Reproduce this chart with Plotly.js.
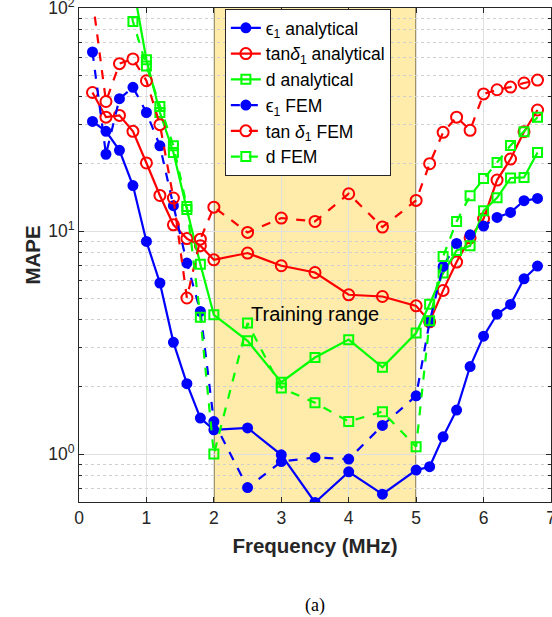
<!DOCTYPE html>
<html>
<head>
<meta charset="utf-8">
<script src="https://cdn.plot.ly/plotly-3.0.1.min.js"></script>
<style>html,body{margin:0;padding:0;background:#fff;}#chart{width:552px;height:617px;}</style>
</head>
<body>
<div id="chart"></div>
<script>
// Frequency points (MHz)
const freqAll = [0.2,0.4,0.6,0.8,1.0,1.2,1.4,1.6,1.8,2.0,2.5,3.0,3.5,4.0,4.5,5.0,5.2,5.4,5.6,5.8,6.0,6.2,6.4,6.6,6.8];
const freqD_an = [0.8,1.0,1.2,1.4,1.6,1.8,2.0,2.5,3.0,3.5,4.0,4.5,5.0,5.2,5.4,5.6,5.8,6.0,6.2,6.4,6.6,6.8];
const freqD_fem = [0.6,0.8,1.0,1.2,1.4,1.6,1.8,2.0,2.5,3.0,3.5,4.0,4.5,5.0,5.2,5.4,5.6,5.8,6.0,6.2,6.4,6.6,6.8];

// MAPE values (%)
const eps_an = [31.0,28.0,23.0,16.0,8.98,5.85,3.17,2.07,1.45,1.285,1.31,0.993,0.607,0.833,0.661,0.848,0.878,1.196,1.575,2.47,3.38,4.24,4.69,6.11,6.97];
const tan_an = [41.8,32.4,33.0,28.0,20.2,14.44,10.67,9.25,8.6,7.43,7.97,6.99,6.52,5.18,5.09,4.62,3.92,5.42,7.26,9.33,11.36,16.93,21.03,27.9,34.9];
const d_an = [128,58.6,34,22.5,12.5,7.1,4.21,3.22,2.10,2.71,3.26,2.45,3.49,4.7,6.48,8.18,8.59,12.33,14.1,17.3,17.4,22.5];
const eps_fem = [63.5,22.1,39.2,44.1,34.0,24.1,12.99,7.19,4.36,1.40,0.708,0.926,0.966,0.95,1.344,1.826,3.92,6.94,8.8,9.62,10.53,11.51,12.12,13.68,14.0];
const tan_fem = [110,38.1,56.3,59.1,47.2,30.0,14.06,5.01,9.2,12.8,9.86,11.44,11.04,14.7,10.42,13.72,20.04,27.7,32.4,28.3,41.2,43.0,44.2,46.1,47.5];
const d_fem = [190,87,55,36.2,24.1,12.9,4.11,1.0,3.87,1.98,1.70,1.40,1.55,1.08,3.96,7.69,11.04,14.4,17.2,20.3,24.2,27.9,32.4];

const names = ['\u03f5<sub>1</sub> analytical','tan<i>\u03b4</i><sub>1</sub> analytical','d analytical',
               '\u03f5<sub>1</sub> FEM','tan <i>\u03b4</i><sub>1</sub> FEM','d FEM'];

const yTickVals = [1,10,100];
const yTickText = ['10<sup>0</sup>','10<sup>1</sup>','10<sup>2</sup>'];
const minorVals = [0.7,0.8,0.9,2,3,4,5,6,7,8,9,20,30,40,50,60,70,80,90];

const BLUE='#0000ff', RED='#ff0000', GREEN='#00ff00';
function tr(x,y,name,color,dash,symbol,size){
  return {x:x,y:y,name:name,type:'scatter',mode:'lines+markers',
    line:{color:color,width:2.2,dash:dash},
    marker:{color:color,symbol:symbol,size:size,line:{color:color,width:2}}};
}
const data = [
  tr(freqAll,eps_an,names[0],BLUE,'solid','circle',9),
  tr(freqAll,tan_an,names[1],RED,'solid','circle-open',11),
  tr(freqD_an,d_an,names[2],GREEN,'solid','square-open',9),
  tr(freqAll,eps_fem,names[3],BLUE,'dash','circle',9),
  tr(freqAll,tan_fem,names[4],RED,'dash','circle-open',11),
  tr(freqD_fem,d_fem,names[5],GREEN,'dash','square-open',9)
];

const AX='#262626';
const layout = {
  width:552,height:617,
  margin:{l:79,r:1,t:8,b:115},
  paper_bgcolor:'#fff',plot_bgcolor:'#fff',
  font:{family:'Liberation Sans, Arial, sans-serif',size:17,color:AX},
  showlegend:true,
  legend:{x:0.309,y:0.998,xanchor:'left',yanchor:'top',bgcolor:'#fff',bordercolor:AX,borderwidth:1,
    font:{size:17.5,color:'#000'},tracegroupgap:0},
  xaxis:{range:[0,7],dtick:1,tick0:0,showgrid:true,gridcolor:'#e0e0e0',zeroline:false,
    showline:true,linecolor:AX,linewidth:1,mirror:'ticks',ticks:'inside',ticklen:5,tickcolor:AX,
    ticklabeloverflow:'allow',tickfont:{size:17.5,color:AX},
    title:{text:'<b>Frequency (MHz)</b>',font:{size:20.5,color:AX},standoff:11}},
  yaxis:{type:'log',range:[Math.log10(0.61),2],tickvals:yTickVals,ticktext:yTickText,
    showgrid:true,gridcolor:'#e0e0e0',zeroline:false,
    showline:true,linecolor:AX,linewidth:1,mirror:'ticks',ticks:'inside',ticklen:5,tickcolor:AX,
    ticklabeloverflow:'allow',tickfont:{size:17.5,color:AX},
    minor:{tickvals:minorVals,showgrid:true,gridcolor:'#cfcfcf',griddash:'dot',gridwidth:1,ticks:'inside',ticklen:3,tickcolor:AX},
    title:{text:'<b>MAPE</b>',font:{size:20.5,color:AX},standoff:2}},
  shapes:[
    {type:'rect',xref:'x',yref:'paper',x0:2,x1:5,y0:0,y1:1,fillcolor:'#ffebaa',line:{width:0},layer:'between'},
    {type:'line',xref:'x',yref:'paper',x0:2,x1:2,y0:0,y1:1,line:{color:'#000',width:1},layer:'between'},
    {type:'line',xref:'x',yref:'paper',x0:5,x1:5,y0:0,y1:1,line:{color:'#000',width:1},layer:'between'}
  ],
  annotations:[
    {x:3.5,y:0.629,xref:'x',yref:'y',text:'Training range',showarrow:false,font:{size:20,color:'#000'}},
    {x:0.5,y:-0.209,xref:'paper',yref:'paper',xanchor:'center',yanchor:'middle',text:'(a)',showarrow:false,
     font:{family:'Liberation Serif, DejaVu Serif, serif',size:18,color:'#000'}}
  ]
};
Plotly.newPlot('chart',data,layout,{displayModeBar:false,staticPlot:true});
</script>
</body>
</html>
